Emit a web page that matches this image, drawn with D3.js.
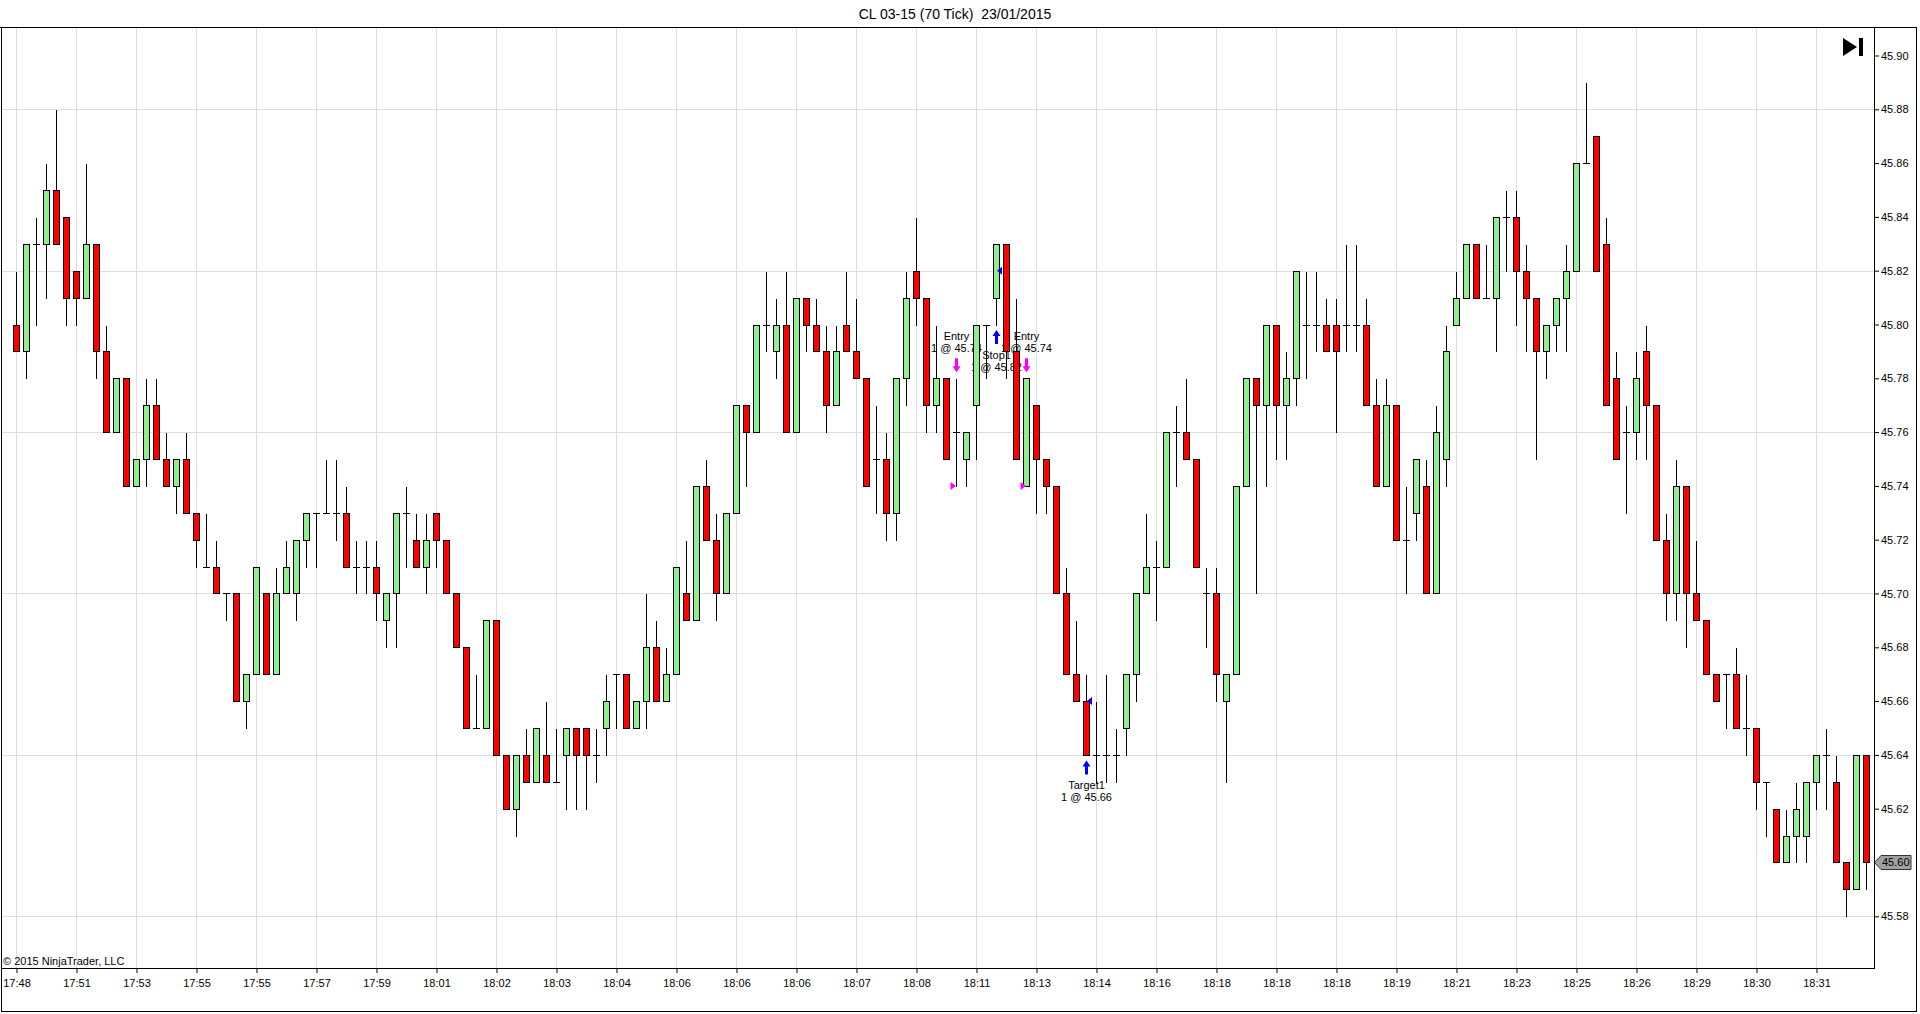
<!DOCTYPE html>
<html>
<head>
    <title>CL 03-15 (70 Tick)</title>
    <meta charset="utf-8">
    <style>
        body { margin: 0; background: #fff; }
        svg { display: block; font-family: Arial, 'Liberation Sans', sans-serif; }
    </style>
</head>
<body>
<script src="https://d3js.org/d3.v7.min.js"></script>
<script>
    // 70 tick bars
    var opens = [
        45.80, 45.79, 45.83, 45.83, 45.85, 45.84, 45.82, 45.81, 45.83, 45.79,
        45.76, 45.78, 45.74, 45.75, 45.77, 45.75, 45.74, 45.75, 45.73, 45.71,
        45.71, 45.70, 45.70, 45.66, 45.67, 45.70, 45.67, 45.70, 45.70, 45.72,
        45.73, 45.73, 45.73, 45.73, 45.71, 45.71, 45.71, 45.69, 45.70, 45.73,
        45.72, 45.71, 45.73, 45.72, 45.70, 45.68, 45.65, 45.65, 45.69, 45.64,
        45.62, 45.64, 45.63, 45.64, 45.63, 45.64, 45.65, 45.65, 45.64, 45.65,
        45.67, 45.67, 45.65, 45.66, 45.68, 45.66, 45.67, 45.70, 45.69, 45.74,
        45.72, 45.70, 45.73, 45.77, 45.76, 45.80, 45.79, 45.80, 45.76, 45.81,
        45.80, 45.79, 45.77, 45.80, 45.79, 45.78, 45.75, 45.75, 45.73, 45.78,
        45.82, 45.81, 45.77, 45.78, 45.76, 45.75, 45.77, 45.80, 45.81, 45.83,
        45.79, 45.74, 45.77, 45.75, 45.74, 45.70, 45.67, 45.66, 45.64, 45.64,
        45.64, 45.65, 45.67, 45.70, 45.71, 45.71, 45.76, 45.76, 45.75, 45.70,
        45.70, 45.66, 45.67, 45.74, 45.78, 45.77, 45.80, 45.77, 45.78, 45.80,
        45.80, 45.80, 45.80, 45.80, 45.80, 45.80, 45.77, 45.74, 45.77, 45.72,
        45.73, 45.74, 45.70, 45.75, 45.80, 45.81, 45.83, 45.81, 45.81, 45.84,
        45.84, 45.82, 45.81, 45.79, 45.80, 45.81, 45.82, 45.86, 45.87, 45.83,
        45.78, 45.76, 45.76, 45.79, 45.77, 45.72, 45.70, 45.74, 45.70, 45.69,
        45.67, 45.67, 45.67, 45.65, 45.65, 45.63, 45.62, 45.60, 45.61, 45.61,
        45.63, 45.64, 45.63, 45.60, 45.59, 45.64
    ];
    var highs = [
        45.82, 45.83, 45.84, 45.86, 45.88, 45.84, 45.82, 45.86, 45.83, 45.80,
        45.78, 45.78, 45.75, 45.78, 45.78, 45.76, 45.75, 45.76, 45.73, 45.73,
        45.72, 45.70, 45.70, 45.67, 45.71, 45.70, 45.71, 45.72, 45.72, 45.73,
        45.73, 45.75, 45.75, 45.74, 45.72, 45.72, 45.72, 45.70, 45.73, 45.74,
        45.73, 45.73, 45.73, 45.72, 45.70, 45.68, 45.67, 45.69, 45.69, 45.64,
        45.64, 45.65, 45.65, 45.66, 45.65, 45.65, 45.65, 45.65, 45.65, 45.67,
        45.67, 45.67, 45.66, 45.70, 45.69, 45.68, 45.71, 45.72, 45.74, 45.75,
        45.73, 45.73, 45.77, 45.77, 45.80, 45.82, 45.81, 45.82, 45.81, 45.81,
        45.81, 45.80, 45.80, 45.82, 45.81, 45.78, 45.77, 45.76, 45.78, 45.82,
        45.84, 45.81, 45.80, 45.78, 45.78, 45.76, 45.80, 45.80, 45.83, 45.83,
        45.81, 45.78, 45.77, 45.75, 45.74, 45.71, 45.69, 45.67, 45.66, 45.67,
        45.65, 45.67, 45.70, 45.73, 45.72, 45.76, 45.77, 45.78, 45.75, 45.71,
        45.71, 45.67, 45.74, 45.78, 45.78, 45.80, 45.80, 45.79, 45.82, 45.82,
        45.82, 45.81, 45.81, 45.83, 45.83, 45.81, 45.78, 45.78, 45.77, 45.74,
        45.75, 45.75, 45.77, 45.80, 45.82, 45.83, 45.83, 45.83, 45.84, 45.85,
        45.85, 45.83, 45.81, 45.80, 45.81, 45.83, 45.86, 45.89, 45.87, 45.84,
        45.79, 45.77, 45.79, 45.80, 45.77, 45.73, 45.75, 45.74, 45.72, 45.69,
        45.67, 45.67, 45.68, 45.67, 45.65, 45.63, 45.62, 45.62, 45.63, 45.63,
        45.64, 45.65, 45.64, 45.60, 45.64, 45.64
    ];
    var lows = [
        45.79, 45.78, 45.80, 45.81, 45.83, 45.80, 45.80, 45.81, 45.78, 45.76,
        45.76, 45.74, 45.74, 45.74, 45.75, 45.74, 45.73, 45.73, 45.71, 45.71,
        45.70, 45.69, 45.66, 45.65, 45.67, 45.67, 45.67, 45.70, 45.69, 45.71,
        45.71, 45.73, 45.72, 45.71, 45.70, 45.70, 45.69, 45.68, 45.68, 45.71,
        45.71, 45.70, 45.71, 45.70, 45.68, 45.65, 45.65, 45.65, 45.64, 45.62,
        45.61, 45.63, 45.63, 45.63, 45.63, 45.62, 45.62, 45.62, 45.63, 45.64,
        45.65, 45.65, 45.65, 45.65, 45.66, 45.66, 45.67, 45.69, 45.69, 45.72,
        45.69, 45.70, 45.73, 45.74, 45.76, 45.79, 45.78, 45.76, 45.76, 45.79,
        45.79, 45.76, 45.77, 45.79, 45.78, 45.74, 45.73, 45.72, 45.72, 45.77,
        45.80, 45.76, 45.76, 45.75, 45.74, 45.74, 45.75, 45.78, 45.80, 45.78,
        45.75, 45.74, 45.73, 45.73, 45.70, 45.67, 45.66, 45.64, 45.63, 45.63,
        45.63, 45.64, 45.66, 45.70, 45.69, 45.71, 45.74, 45.75, 45.71, 45.68,
        45.66, 45.63, 45.67, 45.74, 45.70, 45.74, 45.75, 45.75, 45.77, 45.78,
        45.79, 45.79, 45.76, 45.79, 45.79, 45.77, 45.74, 45.74, 45.72, 45.70,
        45.72, 45.70, 45.70, 45.74, 45.80, 45.81, 45.81, 45.81, 45.79, 45.82,
        45.80, 45.79, 45.75, 45.78, 45.79, 45.79, 45.82, 45.86, 45.82, 45.77,
        45.75, 45.73, 45.75, 45.75, 45.72, 45.69, 45.69, 45.68, 45.69, 45.67,
        45.66, 45.65, 45.65, 45.64, 45.62, 45.61, 45.60, 45.60, 45.60, 45.60,
        45.62, 45.62, 45.60, 45.58, 45.59, 45.59
    ];
    var closes = [
        45.79, 45.83, 45.83, 45.85, 45.83, 45.81, 45.81, 45.83, 45.79, 45.76,
        45.78, 45.74, 45.75, 45.77, 45.75, 45.74, 45.75, 45.73, 45.72, 45.71,
        45.70, 45.70, 45.66, 45.67, 45.71, 45.67, 45.70, 45.71, 45.72, 45.73,
        45.73, 45.73, 45.73, 45.71, 45.71, 45.71, 45.70, 45.70, 45.73, 45.73,
        45.71, 45.72, 45.72, 45.70, 45.68, 45.65, 45.65, 45.69, 45.64, 45.62,
        45.64, 45.63, 45.65, 45.63, 45.63, 45.65, 45.64, 45.64, 45.64, 45.66,
        45.67, 45.65, 45.66, 45.68, 45.66, 45.67, 45.71, 45.69, 45.74, 45.72,
        45.70, 45.73, 45.77, 45.76, 45.80, 45.80, 45.80, 45.76, 45.81, 45.80,
        45.79, 45.77, 45.79, 45.79, 45.78, 45.74, 45.75, 45.73, 45.78, 45.81,
        45.81, 45.77, 45.78, 45.75, 45.76, 45.76, 45.80, 45.80, 45.83, 45.79,
        45.75, 45.78, 45.75, 45.74, 45.70, 45.67, 45.66, 45.64, 45.64, 45.64,
        45.64, 45.67, 45.70, 45.71, 45.71, 45.76, 45.76, 45.75, 45.71, 45.70,
        45.67, 45.67, 45.74, 45.78, 45.77, 45.80, 45.77, 45.78, 45.82, 45.80,
        45.80, 45.79, 45.79, 45.80, 45.80, 45.77, 45.74, 45.77, 45.72, 45.72,
        45.75, 45.70, 45.76, 45.79, 45.81, 45.83, 45.81, 45.81, 45.84, 45.84,
        45.82, 45.81, 45.79, 45.80, 45.81, 45.82, 45.86, 45.86, 45.82, 45.77,
        45.75, 45.76, 45.78, 45.77, 45.72, 45.70, 45.74, 45.70, 45.69, 45.67,
        45.66, 45.67, 45.65, 45.65, 45.63, 45.63, 45.60, 45.61, 45.62, 45.63,
        45.64, 45.64, 45.60, 45.59, 45.64, 45.60
    ];

    // one time label every 6 bars
    var timeLabels = ['17:48', '17:51', '17:53', '17:55', '17:55', '17:57', '17:59', '18:01',
        '18:02', '18:03', '18:04', '18:06', '18:06', '18:06', '18:07', '18:08', '18:11',
        '18:13', '18:14', '18:16', '18:18', '18:18', '18:18', '18:19', '18:21', '18:23',
        '18:25', '18:26', '18:29', '18:30', '18:31'];
    var priceTicks = [45.58, 45.60, 45.62, 45.64, 45.66, 45.68, 45.70, 45.72, 45.74,
        45.76, 45.78, 45.80, 45.82, 45.84, 45.86, 45.88, 45.90];
    var gridPrices = [45.58, 45.64, 45.70, 45.76, 45.82, 45.88];

    // executions
    var tradeBars = [94, 98, 101, 107];
    var tradePrices = [45.74, 45.82, 45.74, 45.66];
    var tradeSides = ['sell', 'buy', 'sell', 'buy'];
    var tradeNames = ['Entry', 'Stop1', 'Entry', 'Target1'];

    var lastPrice = 45.60;

    var plot = { left: 1, right: 1874, top: 27, bottom: 968 };
    var barStep = 6;
    var upFill = '#90ee90', downFill = '#ff0000';

    var n = opens.length;
    var bars = d3.range(n).map(function (i) {
        return { i: i, o: opens[i], h: highs[i], l: lows[i], c: closes[i] };
    });

    var svg = d3.select('body').append('svg')
        .attr('width', 1920)
        .attr('height', 1014);

    var x = d3.scaleLinear().domain([0, n - 1]).range([16.5, 16.5 + 10 * (n - 1)]);
    var y = d3.scaleLinear().domain([45.58, 45.88]).range([916.3, 109.3]);
    function py(p) { return Math.round(y(p)) + 0.5; }

    var tickIdx = timeLabels.map(function (d, k) { return k * barStep; });

    // grid
    var grid = svg.append('g').attr('stroke', '#dedede').attr('shape-rendering', 'crispEdges');
    grid.selectAll('line.v').data(tickIdx).enter().append('line')
        .attr('class', 'v')
        .attr('x1', function (d) { return x(d); })
        .attr('x2', function (d) { return x(d); })
        .attr('y1', plot.top).attr('y2', plot.bottom);
    grid.selectAll('line.h').data(gridPrices).enter().append('line')
        .attr('class', 'h')
        .attr('x1', plot.left).attr('x2', plot.right)
        .attr('y1', function (d) { return py(d); })
        .attr('y2', function (d) { return py(d); });

    // executions: arrows and labels sit under the candles
    var trades = tradeBars.map(function (b, k) {
        return { bar: b, price: tradePrices[k], side: tradeSides[k], name: tradeNames[k] };
    });

    function arrowPath(cx, tip, dir) {
        // dir 1 = pointing down, -1 = pointing up
        var s = -dir;
        return 'M' + (cx - 1.5) + ',' + (tip + s * 14) +
            'L' + (cx + 1.5) + ',' + (tip + s * 14) +
            'L' + (cx + 1.5) + ',' + (tip + s * 6) +
            'L' + (cx + 4) + ',' + (tip + s * 6) +
            'L' + cx + ',' + tip +
            'L' + (cx - 4) + ',' + (tip + s * 6) +
            'L' + (cx - 1.5) + ',' + (tip + s * 6) + 'Z';
    }

    var ann = svg.append('g').attr('font-size', 11).attr('fill', '#000');
    trades.forEach(function (d) {
        var cx = x(d.bar);
        var b = bars[d.bar];
        var label = '1 @ ' + d3.format('.2f')(d.price);
        if (d.side === 'sell') {
            var tip = y(b.h) - 6;
            ann.append('path').attr('d', arrowPath(cx, tip, 1)).attr('fill', '#ff00ff');
            ann.append('text').attr('x', cx).attr('y', tip - 32).attr('text-anchor', 'middle').text(d.name);
            ann.append('text').attr('x', cx).attr('y', tip - 20).attr('text-anchor', 'middle').text(label);
        } else {
            var tipU = y(b.l) + 5.5;
            ann.append('path').attr('d', arrowPath(cx, tipU, -1)).attr('fill', '#0000ff');
            ann.append('text').attr('x', cx).attr('y', tipU + 29).attr('text-anchor', 'middle').text(d.name);
            ann.append('text').attr('x', cx).attr('y', tipU + 41).attr('text-anchor', 'middle').text(label);
        }
    });

    // candles
    var candle = svg.append('g').attr('shape-rendering', 'crispEdges')
        .selectAll('g').data(bars).enter().append('g');

    candle.append('line')
        .attr('x1', function (d) { return x(d.i); })
        .attr('x2', function (d) { return x(d.i); })
        .attr('y1', function (d) { return py(d.h); })
        .attr('y2', function (d) { return py(d.l); })
        .attr('stroke', '#000');

    candle.filter(function (d) { return d.o !== d.c; }).append('rect')
        .attr('x', function (d) { return x(d.i) - 3; })
        .attr('y', function (d) { return py(Math.max(d.o, d.c)); })
        .attr('width', 6)
        .attr('height', function (d) { return py(Math.min(d.o, d.c)) - py(Math.max(d.o, d.c)); })
        .attr('fill', function (d) { return d.c > d.o ? upFill : downFill; })
        .attr('stroke', '#000');

    candle.filter(function (d) { return d.o === d.c; }).append('line')
        .attr('x1', function (d) { return x(d.i) - 3.5; })
        .attr('x2', function (d) { return x(d.i) + 3.5; })
        .attr('y1', function (d) { return py(d.o); })
        .attr('y2', function (d) { return py(d.o); })
        .attr('stroke', '#000');

    // fill markers at the execution price
    svg.append('g').selectAll('path').data(trades).enter().append('path')
        .attr('d', function (d) {
            var cx = x(d.bar), cy = y(d.price);
            if (d.side === 'sell') {
                return 'M' + (cx - 6) + ',' + (cy - 4) + 'L' + (cx - 6) + ',' + (cy + 4) + 'L' + (cx - 0.5) + ',' + cy + 'Z';
            }
            return 'M' + (cx + 5.5) + ',' + (cy - 4) + 'L' + (cx + 5.5) + ',' + (cy + 4) + 'L' + (cx + 0.5) + ',' + cy + 'Z';
        })
        .attr('fill', function (d) { return d.side === 'sell' ? '#ff00ff' : '#0000ff'; });

    // axes
    var yAxis = svg.append('g')
        .attr('transform', 'translate(' + plot.right + ',0)')
        .call(d3.axisRight(y).tickValues(priceTicks).tickFormat(d3.format('.2f')).tickSize(5).tickPadding(2));
    yAxis.select('.domain').remove();
    yAxis.selectAll('text').attr('font-size', 11).attr('font-family', 'Arial, Liberation Sans, sans-serif').attr('fill', '#000');

    var xAxis = svg.append('g')
        .attr('transform', 'translate(0,' + plot.bottom + ')')
        .call(d3.axisBottom(x).tickValues(tickIdx).tickSize(5).tickPadding(6)
            .tickFormat(function (d) { return timeLabels[d / barStep]; }));
    xAxis.select('.domain').remove();
    xAxis.selectAll('text').attr('font-size', 11).attr('font-family', 'Arial, Liberation Sans, sans-serif').attr('fill', '#000');

    // frame
    var frame = svg.append('g').attr('stroke', '#000').attr('shape-rendering', 'crispEdges');
    frame.append('line').attr('x1', 0).attr('x2', 1917).attr('y1', plot.top + 0.5).attr('y2', plot.top + 0.5);
    frame.append('line').attr('x1', 1.5).attr('x2', 1.5).attr('y1', plot.top).attr('y2', 1012);
    frame.append('line').attr('x1', plot.right + 0.5).attr('x2', plot.right + 0.5).attr('y1', plot.top).attr('y2', plot.bottom + 1);
    frame.append('line').attr('x1', 1).attr('x2', plot.right + 1).attr('y1', plot.bottom + 0.5).attr('y2', plot.bottom + 0.5);
    frame.append('line').attr('x1', 1916.5).attr('x2', 1916.5).attr('y1', plot.top).attr('y2', 1012);
    frame.append('line').attr('x1', 1).attr('x2', 1917).attr('y1', 1011.5).attr('y2', 1011.5);

    // title and copyright
    svg.append('text')
        .attr('x', 955).attr('y', 19)
        .attr('text-anchor', 'middle')
        .attr('font-size', 14)
        .text('CL 03-15 (70 Tick)  23/01/2015')
        .style('white-space', 'pre');
    svg.append('text')
        .attr('x', 3).attr('y', 965)
        .attr('font-size', 11)
        .text('\u00a9 2015 NinjaTrader, LLC');

    // scroll-to-end icon
    svg.append('path').attr('d', 'M1843,38L1843,56L1857,47Z').attr('fill', '#000');
    svg.append('rect').attr('x', 1859).attr('y', 38).attr('width', 4).attr('height', 18).attr('fill', '#000');

    // last price marker
    var ly = y(lastPrice);
    svg.append('path')
        .attr('d', 'M' + (plot.right + 0.5) + ',' + ly + 'L' + (plot.right + 7) + ',' + (ly - 7) +
            'L1911,' + (ly - 7) + 'L1911,' + (ly + 7) + 'L' + (plot.right + 7) + ',' + (ly + 7) + 'Z')
        .attr('fill', '#a0a0a0')
        .attr('stroke', '#333');
    svg.append('text')
        .attr('x', plot.right + 8).attr('y', ly)
        .attr('dy', '0.35em')
        .attr('font-size', 11)
        .text(d3.format('.2f')(lastPrice));
</script>
</body>
</html>
